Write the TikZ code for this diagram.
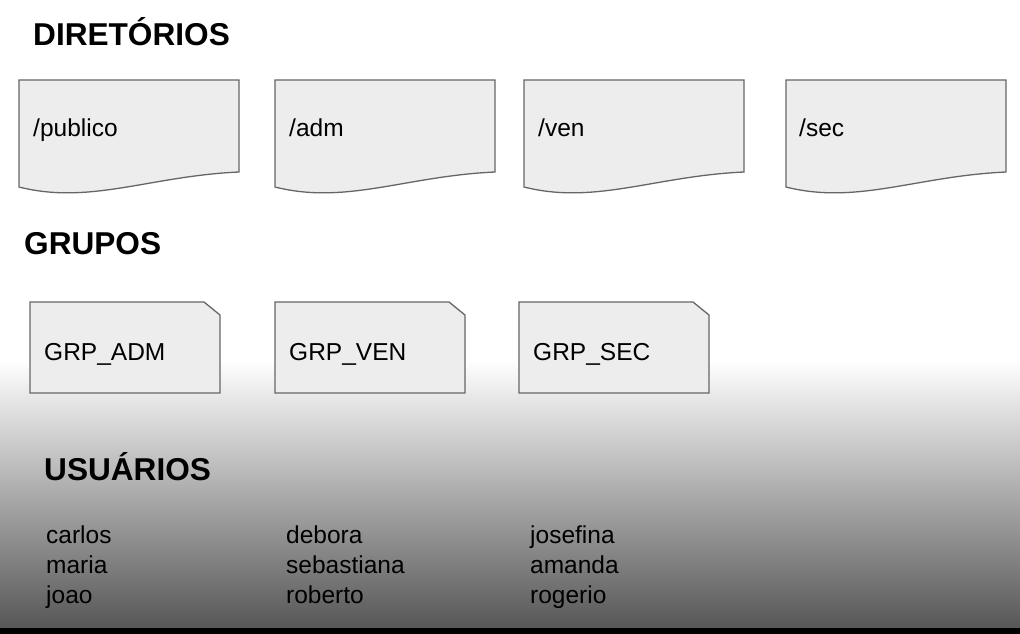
\documentclass[tikz,border=0pt]{standalone}
\usepackage{fontspec}
\setmainfont{Liberation Sans}

\begin{document}
\begin{tikzpicture}[x=1pt, y=-1pt,
                    titlenode/.style={anchor=base west, inner sep=0pt, font=\fontsize{31.6}{38}\selectfont\bfseries},
                    boxtext/.style={anchor=base west, inner sep=0pt, font=\fontsize{24.5}{30}\selectfont},
                    usrlist/.style={anchor=base west, inner sep=0pt, align=left, font=\fontsize{24.5}{30}\selectfont},
                    docbox/.style={draw=black!60, fill=black!7, line width=1.3pt},
                    grpbox/.style={draw=black!60, fill=black!7, line width=1.3pt},]
    % background
    \useasboundingbox (0,0) rectangle (1020,634);
    \fill[white] (0,0) rectangle (1020,360);
    \shade[top color=white, bottom color=black!66] (0,360) rectangle (1020,628);
    \fill[black] (0,628) rectangle (1020,634);
    % directories
    \node[titlenode] (dirtitle) at (33,46) {DIRETÓRIOS};
    \draw[docbox] (19,80) -- (239,80) -- (239,172) .. controls (150,176) and (90,205) .. (19,187) -- cycle;
    \draw[docbox] (275,80) -- (495,80) -- (495,172) .. controls (406,176) and (346,205) .. (275,187) -- cycle;
    \draw[docbox] (524,80) -- (744,80) -- (744,172) .. controls (655,176) and (595,205) .. (524,187) -- cycle;
    \draw[docbox] (786,80) -- (1006,80) -- (1006,172) .. controls (917,176) and (857,205) .. (786,187) -- cycle;
    \node[boxtext] (publico) at (33,136)  {/publico};
    \node[boxtext] (adm)     at (289,136) {/adm};
    \node[boxtext] (ven)     at (538,136) {/ven};
    \node[boxtext] (sec)     at (799,136) {/sec};
    % groups
    \node[titlenode] (grptitle) at (24,254) {GRUPOS};
    \draw[grpbox] (30,302) -- (204,302) -- (220,315) -- (220,393) -- (30,393) -- cycle;
    \draw[grpbox] (275,302) -- (449,302) -- (465,315) -- (465,393) -- (275,393) -- cycle;
    \draw[grpbox] (519,302) -- (693,302) -- (709,315) -- (709,393) -- (519,393) -- cycle;
    \node[boxtext] (grpadm) at (44,360)  {GRP\_ADM};
    \node[boxtext] (grpven) at (289,360) {GRP\_VEN};
    \node[boxtext] (grpsec) at (533,360) {GRP\_SEC};
    % users
    \node[titlenode] (usrtitle) at (44,480) {USUÁRIOS};
    \node[usrlist] (usradm) at (46,603)  {carlos\\maria\\joao};
    \node[usrlist] (usrven) at (286,603) {debora\\sebastiana\\roberto};
    \node[usrlist] (usrsec) at (530,603) {josefina\\amanda\\rogerio};
\end{tikzpicture}
\end{document}
